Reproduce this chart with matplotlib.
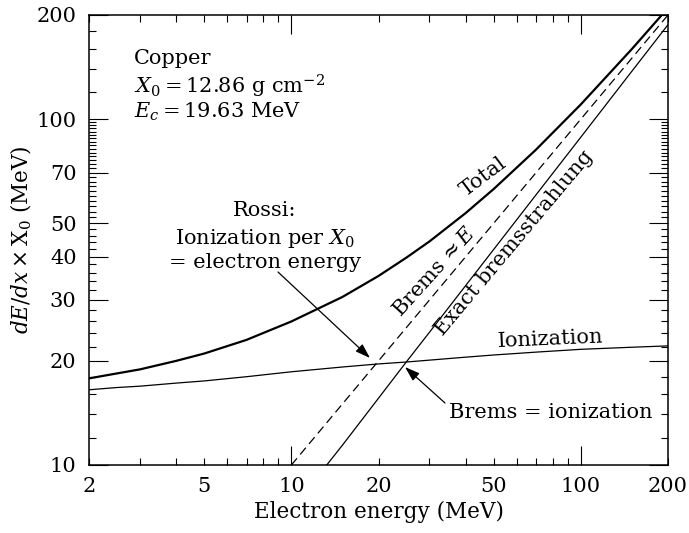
import numpy as np
import matplotlib
matplotlib.use("Agg")
import matplotlib.pyplot as plt
from matplotlib.ticker import FixedLocator, FuncFormatter

# Copper: energy loss per radiation length vs electron energy
energy = [2, 2.5, 3, 4, 5, 7, 10, 15, 20, 25, 30, 40, 50, 70, 100, 150, 200]
ionization = [16.5, 16.75, 16.9, 17.25, 17.5, 18.0, 18.6, 19.2, 19.6, 19.85, 20.1, 20.5,
              20.8, 21.2, 21.6, 21.9, 22.1]
total = [17.8, 18.4, 18.9, 20.0, 21.0, 23.0, 26.0, 30.6, 35.2, 39.8, 44.3, 53.5,
         62.8, 81.6, 110.3, 159.4, 209.6]

brems_energy = [13.25, 15, 20, 25, 30, 50, 70, 100, 150, 200]
brems_exact = [10.0, 11.4, 15.6, 19.9, 24.2, 42.0, 60.4, 88.7, 137.5, 187.5]

rossi_energy = [10, 200]
rossi_brems = [10, 200]   # Brems ~ E

x_labels = [2, 5, 10, 20, 50, 100, 200]
y_major = [10, 20, 30, 40, 50, 70, 100, 200]

plt.rcParams['font.family'] = ['DejaVu Serif']
plt.rcParams['mathtext.fontset'] = 'dejavuserif'
fs = 15

fig = plt.figure(figsize=(6.89, 5.33), dpi=100)
ax = fig.add_axes([89/689, 1 - 465/533, 579/689, 450/533])

ax.plot(energy, total, color='black', lw=1.6)
ax.plot(energy, ionization, color='black', lw=0.9)
ax.plot(brems_energy, brems_exact, color='black', lw=0.9)
ax.plot(rossi_energy, rossi_brems, color='black', lw=0.9, dashes=(7, 4))

ax.set_xscale('log')
ax.set_yscale('log')
ax.set_xlim(2, 200)
ax.set_ylim(10, 200)

# x ticks: long at 10 and 100, short elsewhere; labels at 2,5,10,20,50,100,200
x_minor = list(range(2, 10)) + list(range(20, 100, 10)) + [200]
ax.xaxis.set_major_locator(FixedLocator([10, 100]))
ax.xaxis.set_minor_locator(FixedLocator(x_minor))
ax.xaxis.set_major_formatter(FuncFormatter(lambda v, p: f"{v:g}"))
ax.xaxis.set_minor_formatter(FuncFormatter(lambda v, p: f"{v:g}" if round(v) in x_labels else ""))

y_minor = [12, 14, 16, 18] + [v for v in range(22, 100, 2) if v not in y_major] + [120, 140, 160, 180]
ax.yaxis.set_major_locator(FixedLocator(y_major))
ax.yaxis.set_minor_locator(FixedLocator(y_minor))
ax.yaxis.set_major_formatter(FuncFormatter(lambda v, p: f"{v:g}"))
ax.yaxis.set_minor_formatter(FuncFormatter(lambda v, p: ""))

ax.tick_params(which='both', direction='in', top=True, right=True, labelsize=15, width=0.8)
ax.tick_params(which='major', length=13.5)
ax.tick_params(which='minor', length=5)
ax.tick_params(axis='x', which='both', pad=9)
ax.tick_params(axis='y', which='both', pad=9)
for s in ax.spines.values():
    s.set_linewidth(1.1)

ax.set_xlabel("Electron energy (MeV)", fontsize=15.5, labelpad=3)
ax.set_ylabel(r"$dE/dx \times \mathrm{X}_0$ (MeV)", fontsize=15.5, labelpad=2)


def px(x, y):
    # pixel position in the reference -> axes fraction
    return ((x - 89) / 579, (465 - y) / 450)


tf = ax.transAxes
ax.text(*px(134, 58), "Copper", transform=tf, fontsize=fs, va='center', ha='left')
ax.text(*px(134, 86), r"$X_0 = 12.86$ g cm$^{-2}$", transform=tf, fontsize=fs, va='center', ha='left')
ax.text(*px(134, 112), r"$E_c = 19.63$ MeV", transform=tf, fontsize=fs, va='center', ha='left')

ax.text(*px(265, 210), "Rossi:", transform=tf, fontsize=fs, va='center', ha='center')
ax.text(*px(265, 238), r"Ionization per $X_0$", transform=tf, fontsize=fs, va='center', ha='center')
ax.text(*px(265, 262), "= electron energy", transform=tf, fontsize=fs, va='center', ha='center')

arrow = dict(arrowstyle='-|>,head_length=0.9,head_width=0.3', color='black', lw=0.9,
             shrinkA=0, shrinkB=0, mutation_scale=10)
ax.annotate("", xy=px(370, 358), xytext=px(278, 272), xycoords=tf, textcoords=tf, arrowprops=arrow)
ax.annotate("", xy=px(405, 367), xytext=px(445, 403), xycoords=tf, textcoords=tf, arrowprops=arrow)
ax.text(*px(551, 412), "Brems = ionization", transform=tf, fontsize=fs, va='center', ha='center')

ax.text(*px(550, 339), "Ionization", transform=tf, fontsize=fs, va='center', ha='center', rotation=2.5)
ax.text(*px(483, 177), "Total", transform=tf, fontsize=fs, va='center', ha='center', rotation=37)
ax.text(*px(434, 272), r"Brems$\,\approx E$", transform=tf, fontsize=fs, va='center', ha='center', rotation=48)
ax.text(*px(514, 243), "Exact bremsstrahlung", transform=tf, fontsize=fs, va='center', ha='center', rotation=50)

fig.savefig("out.png", dpi=100)
